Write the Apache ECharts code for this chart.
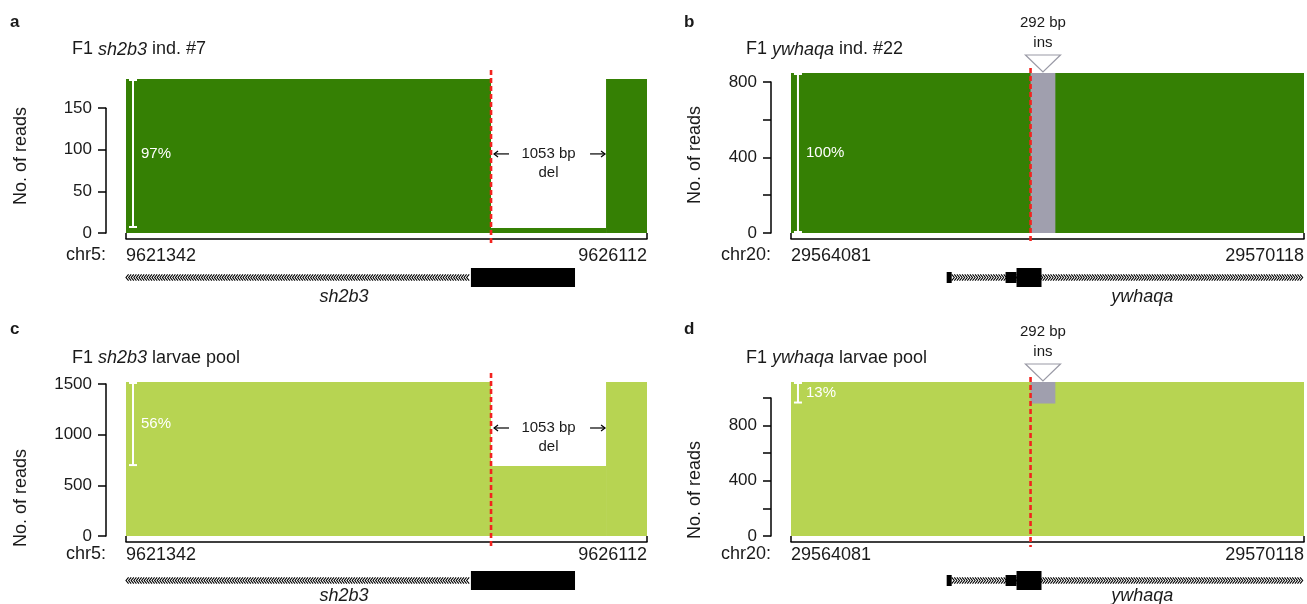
<!DOCTYPE html>
<html>
<head>
<meta charset="utf-8">
<title>sh2b3 / ywhaqa read coverage</title>
<script src="https://cdn.jsdelivr.net/npm/echarts@6/dist/echarts.min.js"></script>
<style>
  html, body { margin: 0; padding: 0; background: #fff; }
  #readsView { width: 1307px; height: 604px; }
</style>
</head>
<body>
<div id="readsView"></div>
<script>
// genomic windows shown on the x axis (bp)
const sh2b3Window = [9621342, 9626112];
const ywhaqaWindow = [29564081, 29570118];

// cut sites (red dashed line)
const sh2b3Cut = 9624684;
const ywhaqaCut = 29566900;

// 1053 bp deletion and 292 bp insertion
const sh2b3Deletion = [9624684, 9625737];
const ywhaqaInsertion = [29566900, 29567192];

// read coverage segments: [start, end, reads]
const covIndSh2b3 = [[9621342, 9624684, 185], [9624684, 9625737, 6], [9625737, 9626112, 185]];
const covIndYwhaqa = [[29564081, 29570118, 847]];
const covPoolSh2b3 = [[9621342, 9624684, 1520], [9624684, 9625737, 690], [9625737, 9626112, 1520]];
const covPoolYwhaqa = [[29564081, 29570118, 1116]];

// reads carrying the insertion: [start, end, low, high]
const insIndYwhaqa = [[29566900, 29567192, 0, 847]];
const insPoolYwhaqa = [[29566900, 29567192, 960, 1116]];

// mutant fraction brackets: [position, low, high]
const bracketIndSh2b3 = [9621406, 6, 185];
const bracketIndYwhaqa = [29564163, 0, 847];
const bracketPoolSh2b3 = [9621406, 690, 1520];
const bracketPoolYwhaqa = [29564163, 960, 1116];
const pctLabels = ['97%', '100%', '56%', '13%'];

// gene models: [start, end, kind] kind 0 intron (-), 1 intron (+), 2 coding exon, 3 UTR
const sh2b3Model = [[9621342, 9624500, 0], [9624500, 9625453, 2]];
const ywhaqaModel = [[29565972, 29570118, 1], [29565913, 29565972, 3], [29566606, 29566735, 3], [29566735, 29567029, 2]];
const sh2b3LabelPos = 9623338;
const ywhaqaLabelPos = 29568215;

// y axis ticks
const ticksSh2b3Ind = { max: 150, step: 50, labelStep: 50 };
const ticksYwhaqaInd = { max: 800, step: 200, labelStep: 400 };
const ticksSh2b3Pool = { max: 1500, step: 500, labelStep: 500 };
const ticksYwhaqaPool = { max: 1000, step: 200, labelStep: 400 };

const fontFamily = '"Liberation Sans", Arial, sans-serif';
const textColor = '#1a1a1a';
const darkGreen = '#358004';
const lightGreen = '#b7d452';
const insGray = '#a09fae';
const cutRed = '#f2231f';

const panels = [
  {
    letter: 'a', gene: 'sh2b3', title: '{n|F1 }{i|sh2b3}{n| ind. #7}', chr: 'chr5:',
    box: { left: 126, right: 647, top: 79, bottom: 233 },
    win: sh2b3Window, cut: sh2b3Cut, cov: covIndSh2b3, color: darkGreen, ins: null, del: sh2b3Deletion,
    delTextY: 95, bracket: bracketIndSh2b3, pct: pctLabels[0], ticks: ticksSh2b3Ind,
    model: sh2b3Model, labelPos: sh2b3LabelPos, cutOver: 9,
    labelMargin: 8, geneName: 64, yNameY: 156
  },
  {
    letter: 'b', gene: 'ywhaqa', title: '{n|F1 }{i|ywhaqa}{n| ind. #22}', chr: 'chr20:',
    box: { left: 791, right: 1305, top: 73, bottom: 233 },
    win: ywhaqaWindow, cut: ywhaqaCut, cov: covIndYwhaqa, color: darkGreen, ins: insIndYwhaqa, del: null,
    bracket: bracketIndYwhaqa, pct: pctLabels[1], ticks: ticksYwhaqaInd,
    model: ywhaqaModel, labelPos: ywhaqaLabelPos, cutOver: 5,
    labelMargin: 8, geneName: 64, yNameY: 155
  },
  {
    letter: 'c', gene: 'sh2b3', title: '{n|F1 }{i|sh2b3}{n| larvae pool}', chr: 'chr5:',
    box: { left: 126, right: 647, top: 382, bottom: 536 },
    win: sh2b3Window, cut: sh2b3Cut, cov: covPoolSh2b3, color: lightGreen, ins: null, del: sh2b3Deletion,
    delTextY: 1066, bracket: bracketPoolSh2b3, pct: pctLabels[2], ticks: ticksSh2b3Pool,
    model: sh2b3Model, labelPos: sh2b3LabelPos, cutOver: 9,
    labelMargin: 4, geneName: 60, yNameY: 498
  },
  {
    letter: 'd', gene: 'ywhaqa', title: '{n|F1 }{i|ywhaqa}{n| larvae pool}', chr: 'chr20:',
    box: { left: 791, right: 1305, top: 382, bottom: 536 },
    win: ywhaqaWindow, cut: ywhaqaCut, cov: covPoolYwhaqa, color: lightGreen, ins: insPoolYwhaqa, del: null,
    bracket: bracketPoolYwhaqa, pct: pctLabels[3], ticks: ticksYwhaqaPool,
    model: ywhaqaModel, labelPos: ywhaqaLabelPos, cutOver: 5,
    labelMargin: 4, geneName: 60, yNameY: 490
  }
];

function segmentRect(params, api) {
  const p1 = api.coord([api.value(0), api.value(2)]);
  const p2 = api.coord([api.value(1), api.value(3)]);
  return {
    type: 'rect',
    shape: { x: p1[0], y: p1[1], width: p2[0] - p1[0], height: p2[1] - p1[1] },
    style: { fill: api.visual('color') }
  };
}

function txt(text, x, y, opts) {
  return {
    type: 'text',
    style: Object.assign({
      text: text, x: x, y: y, fill: textColor, fontSize: 18, fontFamily: fontFamily,
      align: 'center', verticalAlign: 'middle'
    }, opts || {})
  };
}

function geneItem(params, api) {
  const s = api.coord([api.value(0), 0]);
  const e = api.coord([api.value(1), 0]);
  const y = s[1] + 44.5;
  const kind = api.value(2);
  if (kind >= 2) {
    const h = kind === 2 ? 19 : 11;
    return { type: 'rect', shape: { x: s[0], y: y - h / 2, width: e[0] - s[0], height: h }, style: { fill: '#000' } };
  }
  const children = [];
  for (let x = s[0]; x < e[0] - 2; x += 2.6) {
    const pts = kind === 0
      ? [[x + 2.6, y - 3.2], [x, y], [x + 2.6, y + 3.2]]
      : [[x, y - 3.2], [x + 2.6, y], [x, y + 3.2]];
    children.push({ type: 'polyline', shape: { points: pts }, style: { stroke: '#000', lineWidth: 1.1, fill: null } });
  }
  return { type: 'group', children: children };
}

function annotationItem(p) {
  return function (params, api) {
    const kids = [];
    const ymax = Math.max.apply(null, p.cov.map(c => c[2]));
    const base = api.coord([p.cut, 0]);
    const yTop = api.coord([p.cut, ymax])[1];
    const y0 = base[1];

    // mutant fraction bracket
    const bLo = api.coord([p.bracket[0], p.bracket[1]]);
    const bHi = api.coord([p.bracket[0], p.bracket[2]]);
    const white = { stroke: '#fff', lineWidth: 2 };
    kids.push({ type: 'line', shape: { x1: bLo[0], y1: bLo[1] - 1, x2: bHi[0], y2: bHi[1] + 1 }, style: white });
    kids.push({ type: 'line', shape: { x1: bLo[0] - 4, y1: bLo[1] - 1, x2: bLo[0] + 4, y2: bLo[1] - 1 }, style: white });
    kids.push({ type: 'line', shape: { x1: bHi[0] - 4, y1: bHi[1] + 1, x2: bHi[0] + 4, y2: bHi[1] + 1 }, style: white });
    kids.push(txt(p.pct, bLo[0] + 8, (bLo[1] + bHi[1]) / 2, { fill: '#fff', fontSize: 15, align: 'left' }));

    // deletion annotation
    if (p.del) {
      const d1 = api.coord([p.del[0], p.delTextY]);
      const d2 = api.coord([p.del[1], p.delTextY]);
      const mid = (d1[0] + d2[0]) / 2;
      const ay = d1[1];
      const arrow = { stroke: '#000', lineWidth: 1.2, fill: null };
      kids.push({ type: 'line', shape: { x1: d1[0] + 3, y1: ay, x2: d1[0] + 18, y2: ay }, style: arrow });
      kids.push({ type: 'polyline', shape: { points: [[d1[0] + 7, ay - 3], [d1[0] + 3, ay], [d1[0] + 7, ay + 3]] }, style: arrow });
      kids.push({ type: 'line', shape: { x1: d2[0] - 16, y1: ay, x2: d2[0] - 1, y2: ay }, style: arrow });
      kids.push({ type: 'polyline', shape: { points: [[d2[0] - 5, ay - 3], [d2[0] - 1, ay], [d2[0] - 5, ay + 3]] }, style: arrow });
      kids.push(txt('1053 bp', mid, ay, { fontSize: 15 }));
      kids.push(txt('del', mid, ay + 19, { fontSize: 15 }));
    }

    // insertion marker
    if (p.ins) {
      const i1 = api.coord([p.ins[0][0], 0])[0];
      const i2 = api.coord([p.ins[0][1], 0])[0];
      const cx = (i1 + i2) / 2;
      kids.push({
        type: 'polygon',
        shape: { points: [[cx - 17.5, yTop - 18], [cx + 17.5, yTop - 18], [cx, yTop - 1]] },
        style: { fill: '#fff', stroke: '#9a9aa6', lineWidth: 1.2 }
      });
      kids.push(txt('292 bp', cx, yTop - 50, { fontSize: 15 }));
      kids.push(txt('ins', cx, yTop - 30, { fontSize: 15 }));
    }

    // cut site
    kids.push({
      type: 'line',
      shape: { x1: base[0], y1: yTop - p.cutOver, x2: base[0], y2: y0 + 11 },
      style: { stroke: cutRed, lineWidth: 2.6, lineDash: [5, 3] }
    });

    // chromosome label and gene name
    const x0 = api.coord([p.win[0], 0])[0];
    kids.push(txt(p.chr, x0 - 20, y0 + 14 + p.labelMargin, { align: 'right' }));
    const gx = api.coord([p.labelPos, 0])[0];
    kids.push(txt(p.gene, gx, y0 + p.geneName, { fontStyle: 'italic' }));
    return { type: 'group', children: kids };
  };
}

const grid = [], xAxis = [], yAxis = [], series = [], title = [], graphic = [];

panels.forEach(function (p, i) {
  const b = p.box;
  const ymax = Math.max.apply(null, p.cov.map(c => c[2]));
  const axisTop = b.bottom - p.ticks.max / ymax * (b.bottom - b.top);
  grid.push({ left: b.left, top: b.top, width: b.right - b.left, height: b.bottom - b.top });
  grid.push({ left: b.left, top: axisTop, width: b.right - b.left, height: b.bottom - axisTop });

  xAxis.push({
    type: 'value', gridIndex: 2 * i, min: p.win[0], max: p.win[1], offset: 6,
    axisLine: { show: true, onZero: false, lineStyle: { color: '#000', width: 1.5 } },
    axisTick: { show: true, inside: true, length: 6, customValues: p.win, lineStyle: { color: '#000', width: 1.5 } },
    axisLabel: {
      customValues: p.win, margin: p.labelMargin, color: textColor, fontSize: 18, fontFamily: fontFamily,
      alignMinLabel: 'left', alignMaxLabel: 'right', formatter: v => String(v)
    },
    splitLine: { show: false }
  });
  xAxis.push({ type: 'value', gridIndex: 2 * i + 1, min: p.win[0], max: p.win[1], show: false });
  yAxis.push({ type: 'value', gridIndex: 2 * i, min: 0, max: ymax, show: false });
  yAxis.push({
    type: 'value', gridIndex: 2 * i + 1, min: 0, max: p.ticks.max, interval: p.ticks.step, offset: 20,
    axisLine: { show: true, onZero: false, lineStyle: { color: '#000', width: 1.5 } },
    axisTick: { show: true, length: 8, lineStyle: { color: '#000', width: 1.5 } },
    axisLabel: {
      margin: 14, color: textColor, fontSize: 17, fontFamily: fontFamily,
      formatter: v => (v % p.ticks.labelStep === 0 ? String(v) : '')
    },
    splitLine: { show: false }
  });

  series.push({
    type: 'custom', name: 'reads ' + p.letter, xAxisIndex: 2 * i, yAxisIndex: 2 * i, z: 2, silent: true,
    itemStyle: { color: p.color }, encode: { x: [0, 1], y: [2, 3] },
    data: p.cov.map(c => [c[0], c[1], c[2], 0]), renderItem: segmentRect
  });
  if (p.ins) {
    series.push({
      type: 'custom', name: 'insertion ' + p.letter, xAxisIndex: 2 * i, yAxisIndex: 2 * i, z: 3, silent: true,
      itemStyle: { color: insGray }, encode: { x: [0, 1], y: [2, 3] },
      data: p.ins.map(c => [c[0], c[1], c[3], c[2]]), renderItem: segmentRect
    });
  }
  series.push({
    type: 'custom', name: 'gene ' + p.letter, xAxisIndex: 2 * i, yAxisIndex: 2 * i, z: 4, silent: true, clip: false,
    encode: { x: [0, 1] }, data: p.model, renderItem: geneItem
  });
  series.push({
    type: 'custom', name: 'notes ' + p.letter, xAxisIndex: 2 * i, yAxisIndex: 2 * i, z: 5, silent: true, clip: false,
    data: [[p.cut, 0]], renderItem: annotationItem(p)
  });

  const titleY = b.top < 200 ? 49.5 : 358;
  const letterY = b.top < 200 ? 23 : 330;
  const colX = b.left < 400 ? 0 : 674;
  const richBase = { fontSize: 18, fontFamily: fontFamily, color: textColor, fontWeight: 'normal', lineHeight: 22 };
  title.push({
    text: p.title, left: colX + 72, top: titleY - 11, padding: 0,
    textStyle: {
      fontWeight: 'normal',
      rich: {
        n: richBase,
        i: Object.assign({}, richBase, { fontStyle: 'italic' })
      }
    }
  });
  graphic.push({
    type: 'text', left: colX + 10, top: letterY - 9,
    style: { text: p.letter, font: 'bold 17px ' + fontFamily, fill: textColor }
  });
  graphic.push({
    type: 'text', x: colX + 21, y: p.yNameY, rotation: Math.PI / 2,
    style: { text: 'No. of reads', fontSize: 18, fontFamily: fontFamily, fill: textColor, align: 'center', verticalAlign: 'middle' }
  });
});

const readsView = echarts.init(document.getElementById('readsView'));
readsView.setOption({
  backgroundColor: '#fff',
  animation: false,
  title: title,
  graphic: graphic,
  grid: grid,
  xAxis: xAxis,
  yAxis: yAxis,
  series: series
});
window.addEventListener('resize', function () {
  readsView.resize();
});
</script>
</body>
</html>
